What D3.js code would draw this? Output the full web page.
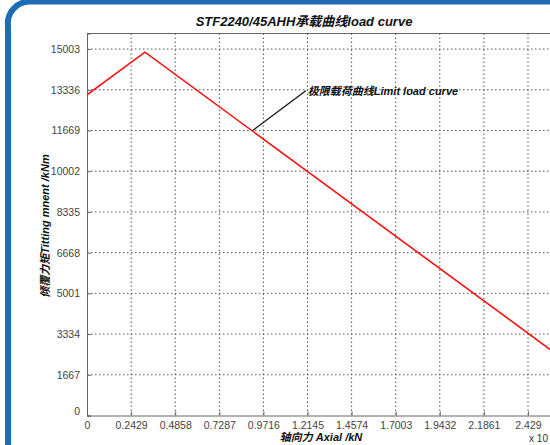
<!DOCTYPE html>
<html>
<head>
<meta charset="utf-8">
<script src="https://cdn.jsdelivr.net/npm/d3@7/dist/d3.min.js"></script>
<style>
  html, body { margin: 0; padding: 0; background: #fff; }
  svg { display: block; }
</style>
</head>
<body>
<svg id="chart" width="550" height="445"></svg>
<script>
// ---- data ----
const titleText = "STF2240/45AHH承载曲线load curve";
const xLabel = "轴向力 Axial /kN";
const yLabel = "倾覆力矩Titting mnent /kNm";
const annotationText = "极限载荷曲线Limit load curve";
const xExponentText = "x 10";
const axialValues = [0, 0.3195, 3.046];        // x 10^4 kN
const momentValues = [13130, 14876, 0];        // kNm
const xTickValues = [0, 0.2429, 0.4858, 0.7287, 0.9716, 1.2145, 1.4574, 1.7003, 1.9432, 2.1861, 2.429];
const xTickLabels = ["0", "0.2429", "0.4858", "0.7287", "0.9716", "1.2145", "1.4574", "1.7003", "1.9432", "2.1861", "2.429"];
const yTickValues = [0, 1667, 3334, 5001, 6668, 8335, 10002, 11669, 13336, 15003];
const yTickLabels = ["0", "1667", "3334", "5001", "6668", "8335", "10002", "11669", "13336", "15003"];
const annotationPoint = [0.9105, 11660];
const annotationLabelPoint = [1.205, 13300];

// ---- layout ----
const svg = d3.select("#chart");
const W = 550, H = 445;
const plotLeft = 87, plotTop = 33.5, plotBottom = 415.5;
const xStepPx = 44.1;
const xMax = 0.2429 * 12;
const x = d3.scaleLinear().domain([0, xMax]).range([plotLeft, plotLeft + xStepPx * 12]);
const y = d3.scaleLinear().domain([0, 15640]).range([plotBottom, plotTop]);
const plotRight = x(xMax);

// blue frame
svg.append("path")
  .attr("d", `M8,${H + 5} L8,26 A22,22 0 0 1 30,1.5 L${W + 5},1.5`)
  .attr("fill", "none")
  .attr("stroke", "#1e6cb4")
  .attr("stroke-width", 6);

const defs = svg.append("defs");
defs.append("clipPath").attr("id", "plotclip")
  .append("rect").attr("x", plotLeft).attr("y", plotTop)
  .attr("width", plotRight - plotLeft).attr("height", plotBottom - plotTop);

const fontNum = "'Liberation Sans', Arial, Helvetica, sans-serif";
const fontLbl = "'Liberation Sans', Arial, 'Noto Sans CJK SC', sans-serif";

// grid
const grid = svg.append("g");
grid.selectAll("line.vg").data(xTickValues.slice(1)).join("line")
  .attr("x1", d => x(d)).attr("x2", d => x(d))
  .attr("y1", plotTop).attr("y2", plotBottom)
  .attr("stroke", "#555").attr("stroke-width", 1)
  .attr("stroke-dasharray", "1.5,2.5");
grid.selectAll("line.hg").data(yTickValues.slice(1)).join("line")
  .attr("x1", plotLeft).attr("x2", plotRight)
  .attr("y1", d => y(d)).attr("y2", d => y(d))
  .attr("stroke", "#555").attr("stroke-width", 1)
  .attr("stroke-dasharray", "1.5,2.5");

// axes (ticks inside)
const yAxis = d3.axisLeft(y).tickValues(yTickValues)
  .tickFormat((d, i) => yTickLabels[i]).tickSize(-4).tickPadding(7);
const gy = svg.append("g").attr("transform", `translate(${plotLeft},0)`).call(yAxis);
gy.select(".domain").attr("stroke", "#666");
gy.selectAll(".tick line").attr("stroke", "#666");
gy.selectAll(".tick text").attr("font-family", fontNum).attr("font-size", 10.5).attr("fill", "#444");
gy.selectAll(".tick").filter(d => d === 0).select("text").attr("dy", "-0.1em");

const xAxis = d3.axisBottom(x).tickValues(xTickValues)
  .tickFormat((d, i) => xTickLabels[i]).tickSize(-4).tickPadding(6);
const gx = svg.append("g").attr("transform", `translate(0,${plotBottom})`).call(xAxis);
gx.select(".domain").attr("stroke", "#666");
gx.selectAll(".tick line").attr("stroke", "#666");
gx.selectAll(".tick text").attr("font-family", fontNum).attr("font-size", 10.5).attr("fill", "#444");

// top frame line
svg.append("line").attr("x1", plotLeft).attr("x2", plotRight)
  .attr("y1", plotTop).attr("y2", plotTop).attr("stroke", "#666");

// data line
const pts = axialValues.map((v, i) => [v, momentValues[i]]);
svg.append("path")
  .datum(pts)
  .attr("clip-path", "url(#plotclip)")
  .attr("fill", "none")
  .attr("stroke", "#ff1010")
  .attr("stroke-width", 1.6)
  .attr("d", d3.line().x(d => x(d[0])).y(d => y(d[1])));

// annotation
svg.append("line")
  .attr("x1", x(annotationPoint[0])).attr("y1", y(annotationPoint[1]))
  .attr("x2", x(annotationLabelPoint[0])).attr("y2", y(annotationLabelPoint[1]))
  .attr("stroke", "#111").attr("stroke-width", 1.3);
svg.append("text")
  .attr("x", x(annotationLabelPoint[0]) + 2).attr("y", y(annotationLabelPoint[1]) + 4)
  .attr("font-family", fontLbl).attr("font-size", 11).attr("font-weight", "bold")
  .attr("font-style", "italic").attr("fill", "#111")
  .text(annotationText);

// title
svg.append("text")
  .attr("x", 304).attr("y", 26)
  .attr("text-anchor", "middle")
  .attr("font-family", fontLbl).attr("font-size", 13).attr("font-weight", "bold")
  .attr("font-style", "italic").attr("fill", "#111")
  .text(titleText);

// axis labels
svg.append("text")
  .attr("x", 321).attr("y", 441)
  .attr("text-anchor", "middle")
  .attr("font-family", fontLbl).attr("font-size", 11).attr("font-weight", "bold")
  .attr("font-style", "italic").attr("fill", "#111")
  .text(xLabel);

svg.append("text")
  .attr("transform", "translate(49,226) rotate(-90)")
  .attr("text-anchor", "middle")
  .attr("font-family", fontLbl).attr("font-size", 11).attr("font-weight", "bold")
  .attr("font-style", "italic").attr("fill", "#111")
  .text(yLabel);

svg.append("text")
  .attr("x", 548).attr("y", 442)
  .attr("text-anchor", "end")
  .attr("font-family", fontNum).attr("font-size", 10).attr("fill", "#333")
  .text(xExponentText);
</script>
</body>
</html>
